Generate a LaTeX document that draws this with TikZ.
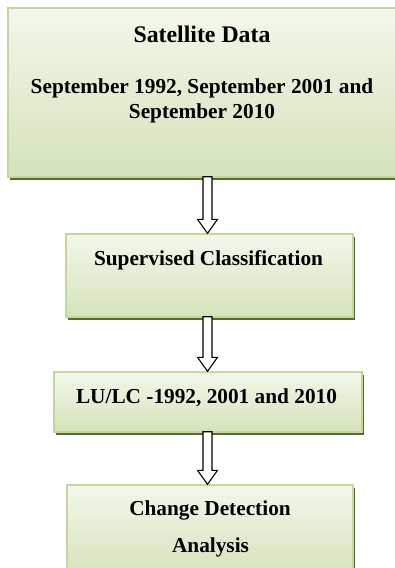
\documentclass[tikz,border=0pt]{standalone}
\usepackage{fontspec}
\setmainfont{Liberation Serif}
\usetikzlibrary{calc}
\definecolor{boxtop}{HTML}{F3F7EB}
\definecolor{boxbot}{HTML}{D5E2BA}
\definecolor{boxborder}{HTML}{C3D69B}
\definecolor{shadowgreen}{HTML}{556B2F}
\tikzset{
  box/.style={rectangle, inner sep=0pt, draw=boxborder, line width=1.4pt,
    top color=boxtop, bottom color=boxbot,
    preaction={fill=shadowgreen, transform canvas={xshift=2pt,yshift=-3pt}}},
  lbl/.style={font=\bfseries\fontsize{21.3}{25}\selectfont, anchor=base, inner sep=0pt},
  title/.style={font=\bfseries\fontsize{23.8}{28}\selectfont, anchor=base, inner sep=0pt},
  blockarr/.style={draw=black, fill=white, line width=1.1pt, line join=miter}
}
\begin{document}
\begin{tikzpicture}[x=1pt,y=-1pt]
\useasboundingbox (0,0) rectangle (394,568);
% boxes
\node[box, minimum width=394pt, minimum height=169pt] (b1) at (205,92.5) {};
\node[box, minimum width=287pt, minimum height=83pt] (b2) at (209.5,275.5) {};
\node[box, minimum width=308pt, minimum height=60pt] (b3) at (208,402) {};
\node[box, minimum width=286pt, minimum height=92pt] (b4) at (210,531) {};
% texts
\node[title] (t1) at (202,42) {Satellite Data};
\node[lbl] (t2) at (202,93) {September 1992, September 2001 and};
\node[lbl] (t3) at (202,118) {September 2010};
\node[lbl] (t4) at (208.5,265) {Supervised Classification};
\node[lbl] (t5) at (206.5,403) {LU/LC -1992, 2001 and 2010};
\node[lbl] (t6) at (210,515) {Change Detection};
\node[lbl] (t7) at (210.5,552) {Analysis};
% arrows
\coordinate (ax) at (207.5,0);
\foreach \s/\e in {b1/b2, b2/b3, b3/b4}{
  \draw[blockarr] let \p1=(\s.south -| ax), \p2=(\e.north -| ax) in
    (\x1-4.5pt,\y1+1pt) -- (\x1-4.5pt,\y2+14pt) -- (\x1-10pt,\y2+14pt) --
    (\x2,\y2) -- (\x1+10pt,\y2+14pt) -- (\x1+4.5pt,\y2+14pt) --
    (\x1+4.5pt,\y1+1pt) -- cycle;
}
\end{tikzpicture}
\end{document}
